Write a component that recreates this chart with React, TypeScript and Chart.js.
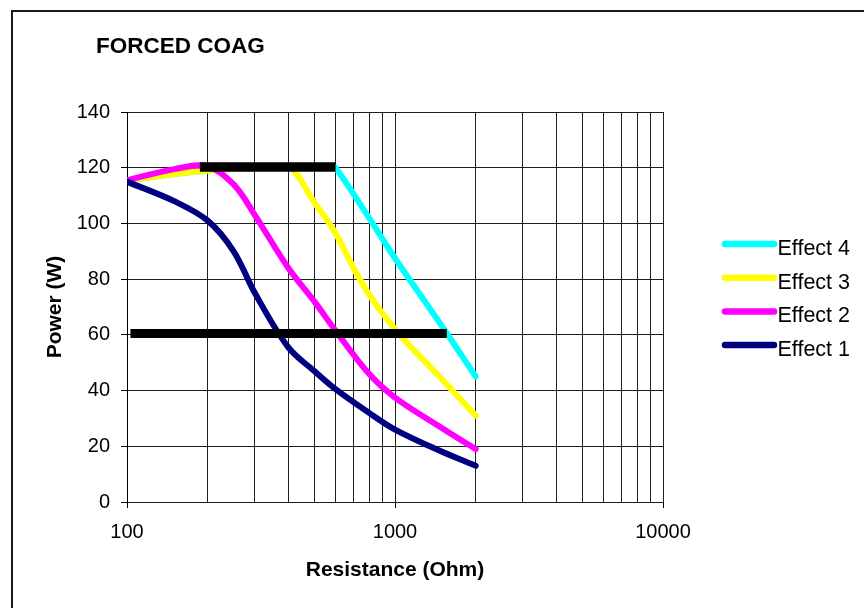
import React, { useEffect, useRef } from 'react';
import { Chart, registerables } from 'chart.js';

Chart.register(...registerables);

// ---- Data ----
const effect1R = [100, 150, 200, 250, 300, 400, 500, 600, 800, 1000, 1500, 2000];
const effect1P = [115, 108, 101, 90, 75, 55.5, 47, 40.5, 32, 26, 18, 13];

const effect2R = [100, 150, 200, 250, 300, 400, 500, 600, 800, 1000, 1500, 2000];
const effect2P = [115.5, 119.5, 120.5, 114, 103, 84, 72, 61.5, 46, 37.5, 26.5, 19];

const effect3R = [100, 200, 400, 500, 600, 700, 800, 1000, 1500, 2000];
const effect3P = [115.5, 119, 120, 107.5, 96.5, 84, 74.5, 62, 44, 31];

const effect4R = [100, 200, 400, 580, 600, 800, 1000, 1500, 2000];
const effect4P = [115.5, 119, 120, 120, 120, 102, 87.5, 63, 45];

const limitHighR = [187, 600];
const limitHighP = [120.3, 120.3];
const limitLowR = [103, 1560];
const limitLowP = [60.5, 60.5];

const seriesLabels = ['Effect 1', 'Effect 2', 'Effect 3', 'Effect 4'];
const seriesColors = ['#000080', '#FF00FF', '#FFFF00', '#00FFFF'];
const seriesMonotone = [false, false, true, false];

const xTickValues = [
  100, 200, 300, 400, 500, 600, 700, 800, 900,
  1000, 2000, 3000, 4000, 5000, 6000, 7000, 8000, 9000,
  10000,
];
const yMin = 0;
const yMax = 140;
const yStep = 20;

const chartTitle = 'FORCED COAG';
const xTitle = 'Resistance (Ohm)';
const yTitle = 'Power (W)';

const FONT = "'Liberation Sans', Arial, Helvetica, sans-serif";
const GRID = '#1e1e1e';

const pts = (r: number[], p: number[]) => r.map((v, i) => ({ x: v, y: p[i] }));
const isDecade = (v: number) => Math.abs(Math.log10(v) - Math.round(Math.log10(v))) < 1e-9;

const decorPlugin = {
  id: 'decor',
  afterDraw(chart: any) {
    const ctx = chart.ctx;
    ctx.save();
    // title
    ctx.fillStyle = '#000';
    ctx.font = `bold 22.5px ${FONT}`;
    ctx.textAlign = 'left';
    ctx.textBaseline = 'alphabetic';
    ctx.fillText(chartTitle, 96, 53);
    // legend
    const items = chart.data.datasets
      .filter((d: any) => d.label && d.label.startsWith('Effect'))
      .slice()
      .reverse();
    ctx.font = `21.5px ${FONT}`;
    items.forEach((d: any, i: number) => {
      const y = 244 + i * 33.7;
      ctx.strokeStyle = d.borderColor;
      ctx.lineWidth = 6.5;
      ctx.lineCap = 'round';
      ctx.beginPath();
      ctx.moveTo(725, y);
      ctx.lineTo(774, y);
      ctx.stroke();
      ctx.fillStyle = '#000';
      ctx.fillText(d.label, 777.5, y + 11);
    });
    ctx.restore();
  },
};

export default function App() {
  const ref = useRef<HTMLCanvasElement | null>(null);

  useEffect(() => {
    if (!ref.current) return;
    const effects = [
      pts(effect1R, effect1P),
      pts(effect2R, effect2P),
      pts(effect3R, effect3P),
      pts(effect4R, effect4P),
    ];
    const chart = new Chart(ref.current, {
      type: 'line',
      data: {
        datasets: [
          {
            label: 'limitHigh',
            data: pts(limitHighR, limitHighP),
            borderColor: '#000',
            borderWidth: 9.5,
            borderCapStyle: 'butt',
            pointRadius: 0,
            tension: 0,
          },
          {
            label: 'limitLow',
            data: pts(limitLowR, limitLowP),
            borderColor: '#000',
            borderWidth: 9,
            borderCapStyle: 'butt',
            pointRadius: 0,
            tension: 0,
          },
          ...effects.map((d, i) => ({
            label: seriesLabels[i],
            data: d,
            borderColor: seriesColors[i],
            backgroundColor: seriesColors[i],
            borderWidth: 6,
            borderCapStyle: 'round',
            borderJoinStyle: 'round',
            pointRadius: 0,
            tension: 0.35,
            cubicInterpolationMode: seriesMonotone[i] ? 'monotone' : 'default',
          })),
        ] as any,
      },
      options: {
        responsive: false,
        animation: false,
        devicePixelRatio: 1,
        layout: { padding: { top: 112, right: 201, left: 0, bottom: 0 } },
        plugins: {
          legend: { display: false },
          title: { display: false },
          tooltip: { enabled: false },
        },
        scales: {
          x: {
            type: 'logarithmic',
            min: 100,
            max: 10000,
            afterBuildTicks: (s: any) => {
              s.ticks = xTickValues.map((v) => ({ value: v, major: isDecade(v) }));
            },
            afterFit: (s: any) => {
              s.height = 106;
            },
            ticks: {
              autoSkip: false,
              maxRotation: 0,
              minRotation: 0,
              padding: 12,
              color: '#000',
              font: { family: FONT, size: 20 },
              callback: (v: any) => (isDecade(Number(v)) ? String(v) : ''),
            },
            grid: {
              color: GRID,
              lineWidth: 1,
              tickLength: 6,
              tickColor: (c: any) =>
                c.tick && isDecade(c.tick.value) ? '#000' : 'rgba(0,0,0,0)',
            },
            border: { color: GRID, width: 1 },
            title: {
              display: true,
              text: xTitle,
              color: '#000',
              font: { family: FONT, size: 21, weight: 'bold' },
              padding: { top: 0, bottom: 25 },
            },
          },
          y: {
            min: yMin,
            max: yMax,
            afterFit: (s: any) => {
              s.width = 127;
            },
            ticks: {
              stepSize: yStep,
              padding: 11,
              color: '#000',
              font: { family: FONT, size: 20 },
            },
            grid: { color: GRID, lineWidth: 1, tickLength: 6, tickColor: '#000' },
            border: { color: '#000', width: 1 },
            title: {
              display: true,
              text: yTitle,
              color: '#000',
              font: { family: FONT, size: 21, weight: 'bold' },
              padding: { top: 43, bottom: 0 },
            },
          },
        },
      } as any,
      plugins: [decorPlugin],
    });
    return () => chart.destroy();
  }, []);

  return (
    <div
      style={{
        position: 'fixed',
        left: 0,
        top: 0,
        width: 864,
        height: 608,
        overflow: 'hidden',
        background: '#fff',
      }}
    >
      <canvas
        ref={ref}
        width={864}
        height={608}
        style={{ position: 'absolute', left: 0, top: 0, width: 864, height: 608 }}
      />
      <div
        style={{
          position: 'absolute',
          left: 11,
          top: 10,
          width: 900,
          height: 700,
          borderLeft: '2px solid #1a1a1a',
          borderTop: '2px solid #1a1a1a',
          pointerEvents: 'none',
        }}
      />
    </div>
  );
}
